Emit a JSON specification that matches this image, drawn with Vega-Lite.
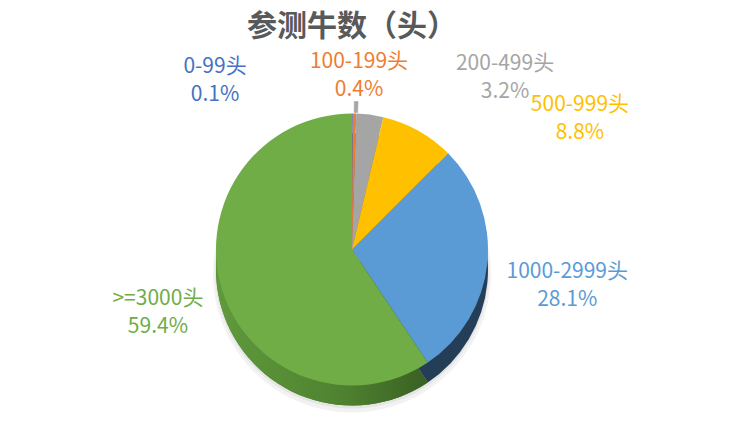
{
  "$schema": "https://vega.github.io/schema/vega-lite/v6.json",
  "width": 704,
  "height": 343,
  "autosize": {"type": "none"},
  "padding": {"left": 0, "top": 78, "right": 28, "bottom": 0},
  "background": "white",
  "title": {"text": "参测牛数（头）", "font": "Noto Sans CJK SC", "fontSize": 30, "fontWeight": "bold", "color": "#595959", "anchor": "middle", "offset": 9},
  "config": {"view": {"stroke": null}},
  "data": {"values": [
    {"cat": "0-99头", "pct": 0.1, "o": 1, "label": "0-99头\n0.1%"},
    {"cat": "100-199头", "pct": 0.4, "o": 2, "label": "100-199头\n0.4%"},
    {"cat": "200-499头", "pct": 3.2, "o": 3, "label": "200-499头\n3.2%"},
    {"cat": "500-999头", "pct": 8.8, "o": 4, "label": "500-999头\n8.8%"},
    {"cat": "1000-2999头", "pct": 28.1, "o": 5, "label": "1000-2999头\n28.1%"},
    {"cat": ">=3000头", "pct": 59.4, "o": 6, "label": ">=3000头\n59.4%"}
  ]},
  "encoding": {
    "theta": {"field": "pct", "type": "quantitative", "stack": true},
    "order": {"field": "o", "type": "quantitative"}
  },
  "layer": [
    {"mark": {"type": "arc", "outerRadius": 139, "yOffset": 24, "fill": "#000000", "opacity": 0.05}},
    {"mark": {"type": "arc", "outerRadius": 137, "yOffset": 22, "fill": "#000000", "opacity": 0.05}},
    {"mark": {"type": "arc", "outerRadius": 136, "yOffset": 20},
     "encoding": {"fill": {"field": "cat", "type": "nominal", "legend": null,
       "scale": {"domain": ["0-99头", "100-199头", "200-499头", "500-999头", "1000-2999头", ">=3000头"],
                 "range": ["#2F4F87", "#A4561F", "#727272", "#B38600", "#243E58", "#4B7B2D"]}}}},
    {"mark": {"type": "arc", "outerRadius": 136, "yOffset": 20,
              "fill": {"gradient": "linear", "x1": 0, "y1": 0, "x2": 1, "y2": 0,
                       "stops": [{"offset": 0, "color": "#5F9A3B"}, {"offset": 0.6, "color": "#4F8230"}, {"offset": 1, "color": "#3A6023"}]}},
     "encoding": {"opacity": {"condition": {"test": "datum.cat === '>=3000头'", "value": 1}, "value": 0}}},
    {"mark": {"type": "arc", "outerRadius": 136},
     "encoding": {"color": {"field": "cat", "type": "nominal", "legend": null,
       "scale": {"domain": ["0-99头", "100-199头", "200-499头", "500-999头", "1000-2999头", ">=3000头"],
                 "range": ["#4472C4", "#ED7D31", "#A5A5A5", "#FFC000", "#5B9BD5", "#70AD47"]}}}},
    {"mark": {"type": "arc", "innerRadius": 137, "outerRadius": 148, "thetaOffset": 0.0095, "theta2Offset": -0.0095, "fill": "#A6A6A6", "stroke": "#A6A6A6", "strokeWidth": 0.6},
     "encoding": {"opacity": {"condition": {"test": "datum.cat === '100-199头'", "value": 1}, "value": 0}}},
    {"mark": {"type": "text", "radius": 160, "dx": -137.5, "dy": -23, "font": "Noto Sans CJK SC", "fontSize": 21, "lineBreak": "\n", "lineHeight": 28, "align": "center", "baseline": "middle"},
     "encoding": {"text": {"condition": {"test": "datum.cat === '0-99头'", "field": "label", "type": "nominal"}, "value": ""},
       "color": {"field": "cat", "type": "nominal", "legend": null}}},
    {"mark": {"type": "text", "radius": 160, "dx": 4, "dy": -28, "font": "Noto Sans CJK SC", "fontSize": 21, "lineBreak": "\n", "lineHeight": 28, "align": "center", "baseline": "middle"},
     "encoding": {"text": {"condition": {"test": "datum.cat === '100-199头'", "field": "label", "type": "nominal"}, "value": ""},
       "color": {"field": "cat", "type": "nominal", "legend": null}}},
    {"mark": {"type": "text", "radius": 160, "dx": 132, "dy": -26.5, "font": "Noto Sans CJK SC", "fontSize": 21, "lineBreak": "\n", "lineHeight": 28, "align": "center", "baseline": "middle"},
     "encoding": {"text": {"condition": {"test": "datum.cat === '200-499头'", "field": "label", "type": "nominal"}, "value": ""},
       "color": {"field": "cat", "type": "nominal", "legend": null}}},
    {"mark": {"type": "text", "radius": 160, "dx": 150, "dy": -5, "font": "Noto Sans CJK SC", "fontSize": 21, "lineBreak": "\n", "lineHeight": 28, "align": "center", "baseline": "middle"},
     "encoding": {"text": {"condition": {"test": "datum.cat === '500-999头'", "field": "label", "type": "nominal"}, "value": ""},
       "color": {"field": "cat", "type": "nominal", "legend": null}}},
    {"mark": {"type": "text", "radius": 160, "dx": 56, "dy": 6.5, "font": "Noto Sans CJK SC", "fontSize": 21, "lineBreak": "\n", "lineHeight": 28, "align": "center", "baseline": "middle"},
     "encoding": {"text": {"condition": {"test": "datum.cat === '1000-2999头'", "field": "label", "type": "nominal"}, "value": ""},
       "color": {"field": "cat", "type": "nominal", "legend": null}}},
    {"mark": {"type": "text", "radius": 160, "dx": -41, "dy": 2.5, "font": "Noto Sans CJK SC", "fontSize": 21, "lineBreak": "\n", "lineHeight": 28, "align": "center", "baseline": "middle"},
     "encoding": {"text": {"condition": {"test": "datum.cat === '>=3000头'", "field": "label", "type": "nominal"}, "value": ""},
       "color": {"field": "cat", "type": "nominal", "legend": null}}}
  ]
}
